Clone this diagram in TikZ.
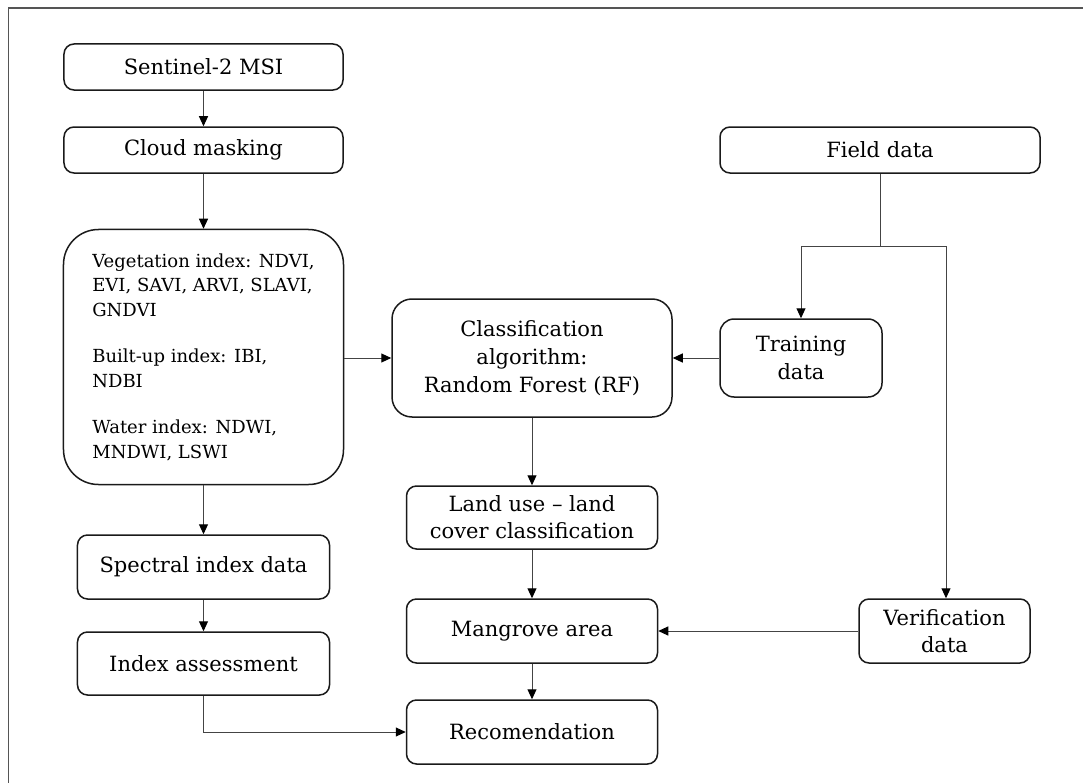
\documentclass[tikz,border=0pt]{standalone}
\usepackage{fontspec}
\setmainfont{DejaVu Serif}
\usetikzlibrary{arrows.meta}
\definecolor{frame}{HTML}{555555}
\definecolor{conn}{HTML}{444444}
\definecolor{edge}{HTML}{1A1A1A}
\tikzset{
  box/.style={draw=edge, line width=1.5bp, rounded corners=10bp, align=center,
    inner sep=0pt, font=\fontsize{21bp}{27bp}\selectfont, text=black},
  conn/.style={draw=conn, line width=1bp, -{Triangle[length=10bp,width=9bp,color=black]}},
  plain/.style={draw=conn, line width=1bp}
}
\begin{document}
\begin{tikzpicture}[x=1bp,y=-1bp]
\useasboundingbox (0,0) rectangle (1083,783);
\draw[frame, line width=1.5bp] (1083,8) -- (8.5,8) -- (8.5,783);

\node[box, minimum width=279bp, minimum height=46bp] (sent) at (203.5,67) {Sentinel-2 MSI};
\node[box, minimum width=279bp, minimum height=46bp] (cloud) at (203.5,150) {Cloud masking};
\node[box, minimum width=280bp, minimum height=255bp, rounded corners=35bp, align=left,
  font=\fontsize{18bp}{24.5bp}\selectfont] (idx) at (203.5,357)
  {Vegetation index: NDVI,\\EVI, SAVI, ARVI, SLAVI,\\GNDVI\\[22bp]Built-up index: IBI,\\NDBI\\[22bp]Water index: NDWI,\\MNDWI, LSWI};
\node[box, minimum width=252bp, minimum height=64bp] (spec) at (203.5,567) {Spectral index data};
\node[box, minimum width=252bp, minimum height=63bp] (assess) at (203.5,663.5) {Index assessment};

\node[box, minimum width=280bp, minimum height=118bp, rounded corners=20bp,
  font=\fontsize{21bp}{28bp}\selectfont] (cls) at (532,358)
  {Classification\\algorithm:\\Random Forest (RF)};
\node[box, minimum width=251bp, minimum height=63bp] (land) at (532,517.5) {Land use -- land\\cover classification};
\node[box, minimum width=251bp, minimum height=64bp] (mang) at (532,631) {Mangrove area};
\node[box, minimum width=251bp, minimum height=64bp] (rec) at (532,732) {Recomendation};

\node[box, minimum width=320bp, minimum height=46bp] (field) at (880,150) {Field data};
\node[box, minimum width=162bp, minimum height=78bp, rounded corners=14bp,
  font=\fontsize{21bp}{28bp}\selectfont] (train) at (801,358) {Training\\data};
\node[box, minimum width=171bp, minimum height=64bp] (verif) at (944.5,631) {Verification\\data};

\coordinate (jm) at (880.5,246);
\coordinate (jl) at (801,246);
\coordinate (jr) at (946,246);

\draw[conn] (sent) -- (cloud);
\draw[conn] (cloud) -- (idx);
\draw[conn] (idx) -- (spec);
\draw[conn] (spec) -- (assess);
\draw[conn] (assess.south) -- (assess.south |- rec.west) -- (rec.west);
\draw[conn] (idx.east |- cls.west) -- (cls.west);
\draw[conn] (train.west) -- (cls.east);
\draw[conn] (cls) -- (land);
\draw[conn] (land) -- (mang);
\draw[conn] (mang) -- (rec);
\draw[conn] (verif.west) -- (mang.east);
\draw[plain] (field.south -| jm) -- (jm);
\draw[conn] (jm) -- (jl) -- (train.north);
\draw[conn] (jm) -- (jr) -- (jr |- verif.north);
\end{tikzpicture}
\end{document}
